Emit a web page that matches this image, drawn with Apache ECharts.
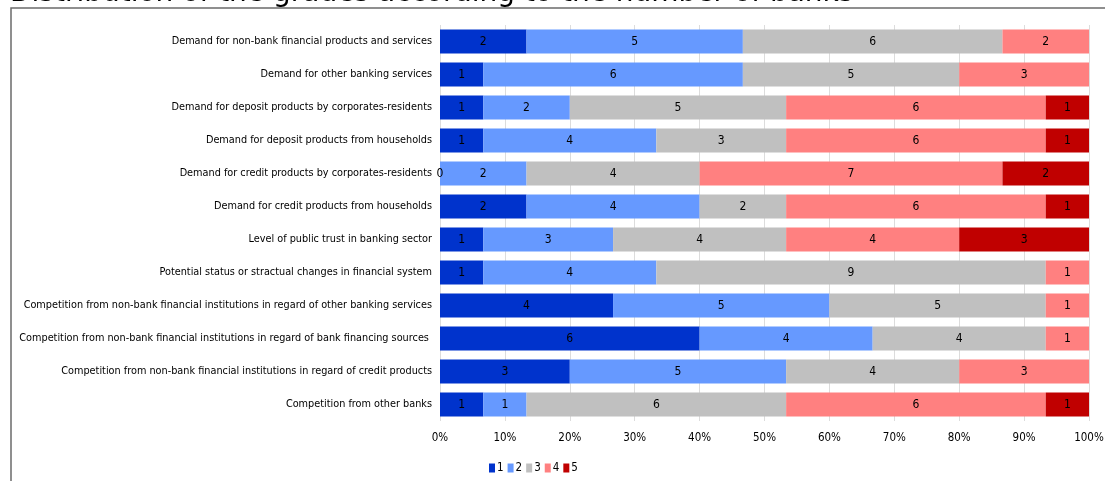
<!DOCTYPE html>
<html>
<head>
<meta charset="utf-8">
<script src="https://cdn.jsdelivr.net/npm/echarts@6/dist/echarts.min.js"></script>
<style>
  html, body { margin: 0; padding: 0; background: #fff; }
  #chart { width: 1105px; height: 481px; }
</style>
</head>
<body>
<div id="chart"></div>
<script>
// Factors, listed top to bottom
const categories = [
  'Demand for non-bank financial products and services',
  'Demand for other banking services',
  'Demand for deposit products by corporates-residents',
  'Demand for deposit products from households',
  'Demand for credit products by corporates-residents',
  'Demand for credit products from households',
  'Level of public trust in banking sector',
  'Potential status or stractual changes in financial system',
  'Competition from non-bank financial institutions in regard of other banking services',
  'Competition from non-bank financial institutions in regard of bank financing sources ',
  'Competition from non-bank financial institutions in regard of credit products',
  'Competition from other banks'
];

// Number of banks giving each grade (null = no entry)
const grade1 = [2, 1, 1, 1, 0, 2, 1, 1, 4, 6, 3, 1];
const grade2 = [5, 6, 2, 4, 2, 4, 3, 4, 5, 4, 5, 1];
const grade3 = [6, 5, 5, 3, 4, 2, 4, 9, 5, 4, 4, 6];
const grade4 = [2, 3, 6, 6, 7, 6, 4, 1, 1, 1, 3, 6];
const grade5 = [null, null, 1, 1, 2, 1, 3, null, null, null, null, 1];

const gradeNames = ['1', '2', '3', '4', '5'];
const gradeColors = ['#0033CC', '#6699FF', '#C0C0C0', '#FF8080', '#C00000'];
const xTickFormat = '{value}%';

const grades = [grade1, grade2, grade3, grade4, grade5];
const totals = categories.map((_, i) =>
  grades.reduce((s, g) => s + (g[i] == null ? 0 : g[i]), 0));

const labelFont = '"DejaVu Sans Condensed", "DejaVu Sans", sans-serif';

const series = grades.map((g, k) => ({
  name: gradeNames[k],
  type: 'bar',
  stack: 'share',
  barCategoryGap: '27%',
  itemStyle: { color: gradeColors[k] },
  label: {
    show: true,
    position: 'inside',
    color: '#000',
    fontFamily: labelFont,
    fontSize: 12,
    formatter: p => p.data.count
  },
  emphasis: { disabled: true },
  data: g.map((v, i) => v == null ? null : { value: v / totals[i] * 100, count: v })
}));

const chart = echarts.init(document.getElementById('chart'), null, { renderer: 'canvas' });
chart.setOption({
  animation: false,
  backgroundColor: '#fff',
  grid: { left: 440, right: 16, top: 25, bottom: 60, containLabel: false, outerBoundsMode: 'none' },
  xAxis: {
    type: 'value',
    min: 0,
    max: 100,
    interval: 10,
    axisLine: { show: false },
    axisTick: { show: false },
    splitLine: { show: true, lineStyle: { color: '#dcdcdc', width: 1 } },
    axisLabel: {
      formatter: xTickFormat,
      color: '#000',
      fontFamily: labelFont,
      fontSize: 11.5,
      margin: 11
    }
  },
  yAxis: {
    type: 'category',
    inverse: true,
    data: categories,
    axisLine: { show: false },
    axisTick: { show: false },
    axisLabel: {
      color: '#000',
      fontFamily: labelFont,
      fontSize: 10.8,
      margin: 8
    }
  },
  legend: {
    left: 484,
    top: 457,
    itemWidth: 6,
    itemHeight: 9,
    itemGap: 4,
    icon: 'rect',
    textStyle: { color: '#000', fontFamily: labelFont, fontSize: 11.5, padding: [0, 0, 0, -3] },
    data: gradeNames
  },
  graphic: [
    {
      type: 'rect',
      shape: { x: 11, y: 8, width: 1300, height: 700 },
      style: { fill: null, stroke: '#6b6b6b', lineWidth: 1.5 },
      silent: true
    },
    {
      type: 'text',
      x: 10,
      y: -6.5,
      style: {
        text: 'Distribution of the grades according to the number of banks',
        fill: '#000',
        font: '28px "DejaVu Sans", sans-serif',
        verticalAlign: 'middle'
      },
      silent: true
    }
  ],
  series: series
});
</script>
</body>
</html>
